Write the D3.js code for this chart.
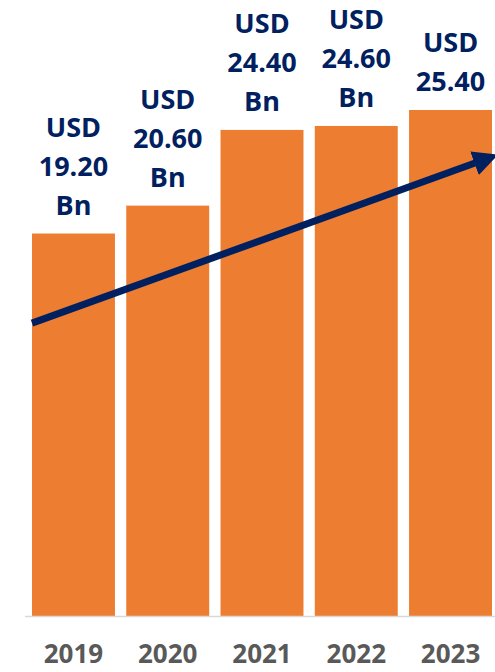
<!DOCTYPE html>
<html>
<head>
<meta charset="utf-8">
<script src="https://cdn.jsdelivr.net/npm/d3@7"></script>
<style>
    body { margin: 0; background: #fff; }
    text { font-family: "Open Sans", sans-serif; font-weight: bold; }
</style>
</head>
<body>
<div id="chart"></div>
<script>
// chart data
let years = ["2019", "2020", "2021", "2022", "2023"];
let values = [19.2, 20.6, 24.4, 24.6, 25.4];
let units = ["Bn", "Bn", "Bn", "Bn", ""]; // last label has no unit shown
let trend = [14.7, 22.9]; // trend arrow start / end value

function drawChart() {
    let frame = { width: 495, height: 672 },
        baseline = 616;

    let svg = d3.select('#chart').append('svg')
        .attr('width', frame.width)
        .attr('height', frame.height);

    let x = d3.scaleBand()
        .domain(years)
        .range([32, 492])
        .paddingInner(0.12)
        .paddingOuter(0);

    let y = d3.scaleLinear()
        .domain([0, 25.4])
        .range([baseline, 110]);

    // bars
    svg.selectAll('.bar')
        .data(values)
        .enter().append('rect')
        .attr('class', 'bar')
        .attr('x', function (d, i) { return x(years[i]); })
        .attr('y', function (d) { return y(d); })
        .attr('width', x.bandwidth())
        .attr('height', function (d) { return baseline - y(d); })
        .attr('fill', '#ED7D31');

    // baseline axis
    let axis = svg.append('g')
        .attr('transform', 'translate(0,' + baseline + ')')
        .call(d3.axisBottom(x).tickSize(0).tickPadding(29));
    axis.select('.domain')
        .attr('d', 'M25,0.5H495')
        .attr('stroke', '#d9d9d9')
        .attr('stroke-width', 1.5);
    axis.selectAll('text')
        .style('font-size', '26px')
        .attr('fill', '#595959')
        .attr('font-family', '"Open Sans", sans-serif')
        .attr('font-weight', 'bold');

    // value labels above bars
    let lineHeight = 39;
    values.forEach(function (v, i) {
        let lines = ['USD', v.toFixed(2)];
        if (units[i]) lines.push(units[i]);
        let last = y(v) - 19;
        let label = svg.append('text')
            .attr('text-anchor', 'middle')
            .attr('fill', '#002060')
            .style('font-size', '27px');
        lines.forEach(function (t, k) {
            label.append('tspan')
                .attr('x', x(years[i]) + x.bandwidth() / 2)
                .attr('y', last - (lines.length - 1 - k) * lineHeight)
                .text(t);
        });
    });

    // trend arrow
    svg.append('defs').append('marker')
        .attr('id', 'head')
        .attr('viewBox', '0 0 10 10')
        .attr('refX', 4)
        .attr('refY', 5)
        .attr('markerWidth', 3.6)
        .attr('markerHeight', 3.6)
        .attr('orient', 'auto')
        .append('path')
        .attr('d', 'M0,0L10,5L0,10Z')
        .attr('fill', '#002060');

    svg.append('line')
        .attr('x1', x(years[0]))
        .attr('y1', y(trend[0]))
        .attr('x2', 484)
        .attr('y2', y(trend[1]))
        .attr('stroke', '#002060')
        .attr('stroke-width', 7)
        .attr('marker-end', 'url(#head)');
}

drawChart();
</script>
</body>
</html>
